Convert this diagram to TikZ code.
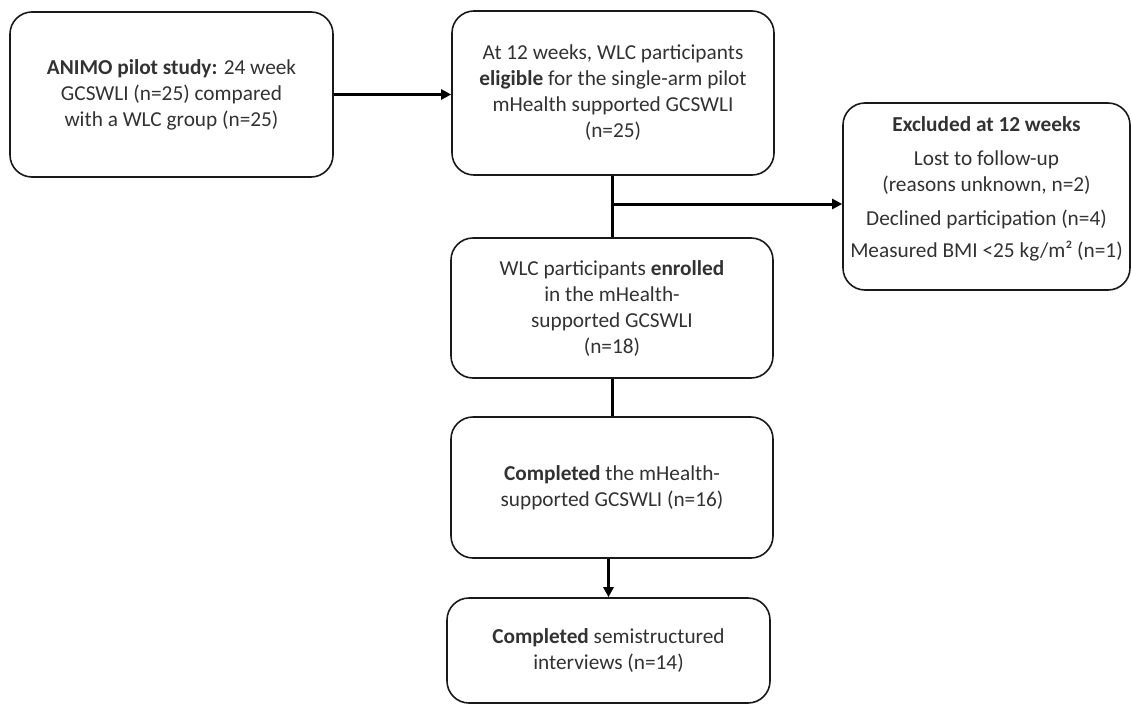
\documentclass[tikz,border=0pt]{standalone}
\usepackage{fontspec}
\setmainfont{Carlito}
\usetikzlibrary{arrows.meta}
\definecolor{txtc}{RGB}{50,50,50}
\begin{document}
\begin{tikzpicture}[x=1pt,y=-1pt,
  box/.style={draw=black!90, line width=1.6pt, rounded corners=22pt, align=center,
    text=txtc, font=\fontsize{21.3}{26}\selectfont, inner sep=0pt},
  txt/.style={align=center, text=txtc, font=\fontsize{21.3}{26}\selectfont, inner sep=0pt},
  conn/.style={line width=3pt, draw=black},
  arr/.style={conn, -{Triangle[length=10pt,width=10pt]}}]
\useasboundingbox (0,0) rectangle (1132,704);
\node[box, minimum width=323pt, minimum height=165pt] (b1) at (171.5,94.5)
  {\textbf{ANIMO pilot study:} 24 week\\GCSWLI (n=25) compared\\with a WLC group (n=25)};
\node[box, minimum width=322pt, minimum height=164pt] (b2) at (613,93)
  {At 12 weeks, WLC participants\\\textbf{eligible} for the single-arm pilot\\mHealth supported GCSWLI\\(n=25)};
\node[box, minimum width=287pt, minimum height=187pt] (b3) at (986.5,196.5) {};
\node[txt] (b3t) at ([yshift=8pt]b3.center)
  {\textbf{Excluded at 12 weeks}\\[8pt]Lost to follow-up\\(reasons unknown, n=2)\\[8pt]Declined participation (n=4)\\[6pt]Measured BMI <25 kg/m² (n=1)};
\node[box, minimum width=322pt, minimum height=140pt] (b4) at (612,308)
  {WLC participants \textbf{enrolled}\\in the mHealth-\\supported GCSWLI\\(n=18)};
\node[box, minimum width=322pt, minimum height=141pt] (b5) at (612,487.5)
  {\textbf{Completed} the mHealth-\\supported GCSWLI (n=16)};
\node[box, minimum width=323pt, minimum height=105pt] (b6) at (608.5,650.5)
  {\textbf{Completed} semistructured\\interviews (n=14)};
\coordinate (br) at (612,204);
\draw[arr] (b1.east) -- (b1.east -| b2.west);
\draw[conn] (b2.south -| b4.north) -- (b4.north);
\draw[arr] (br) -- (br -| b3.west);
\draw[conn] (b4.south) -- (b5.north);
\draw[arr] (b6.north |- b5.south) -- (b6.north);
\end{tikzpicture}
\end{document}
